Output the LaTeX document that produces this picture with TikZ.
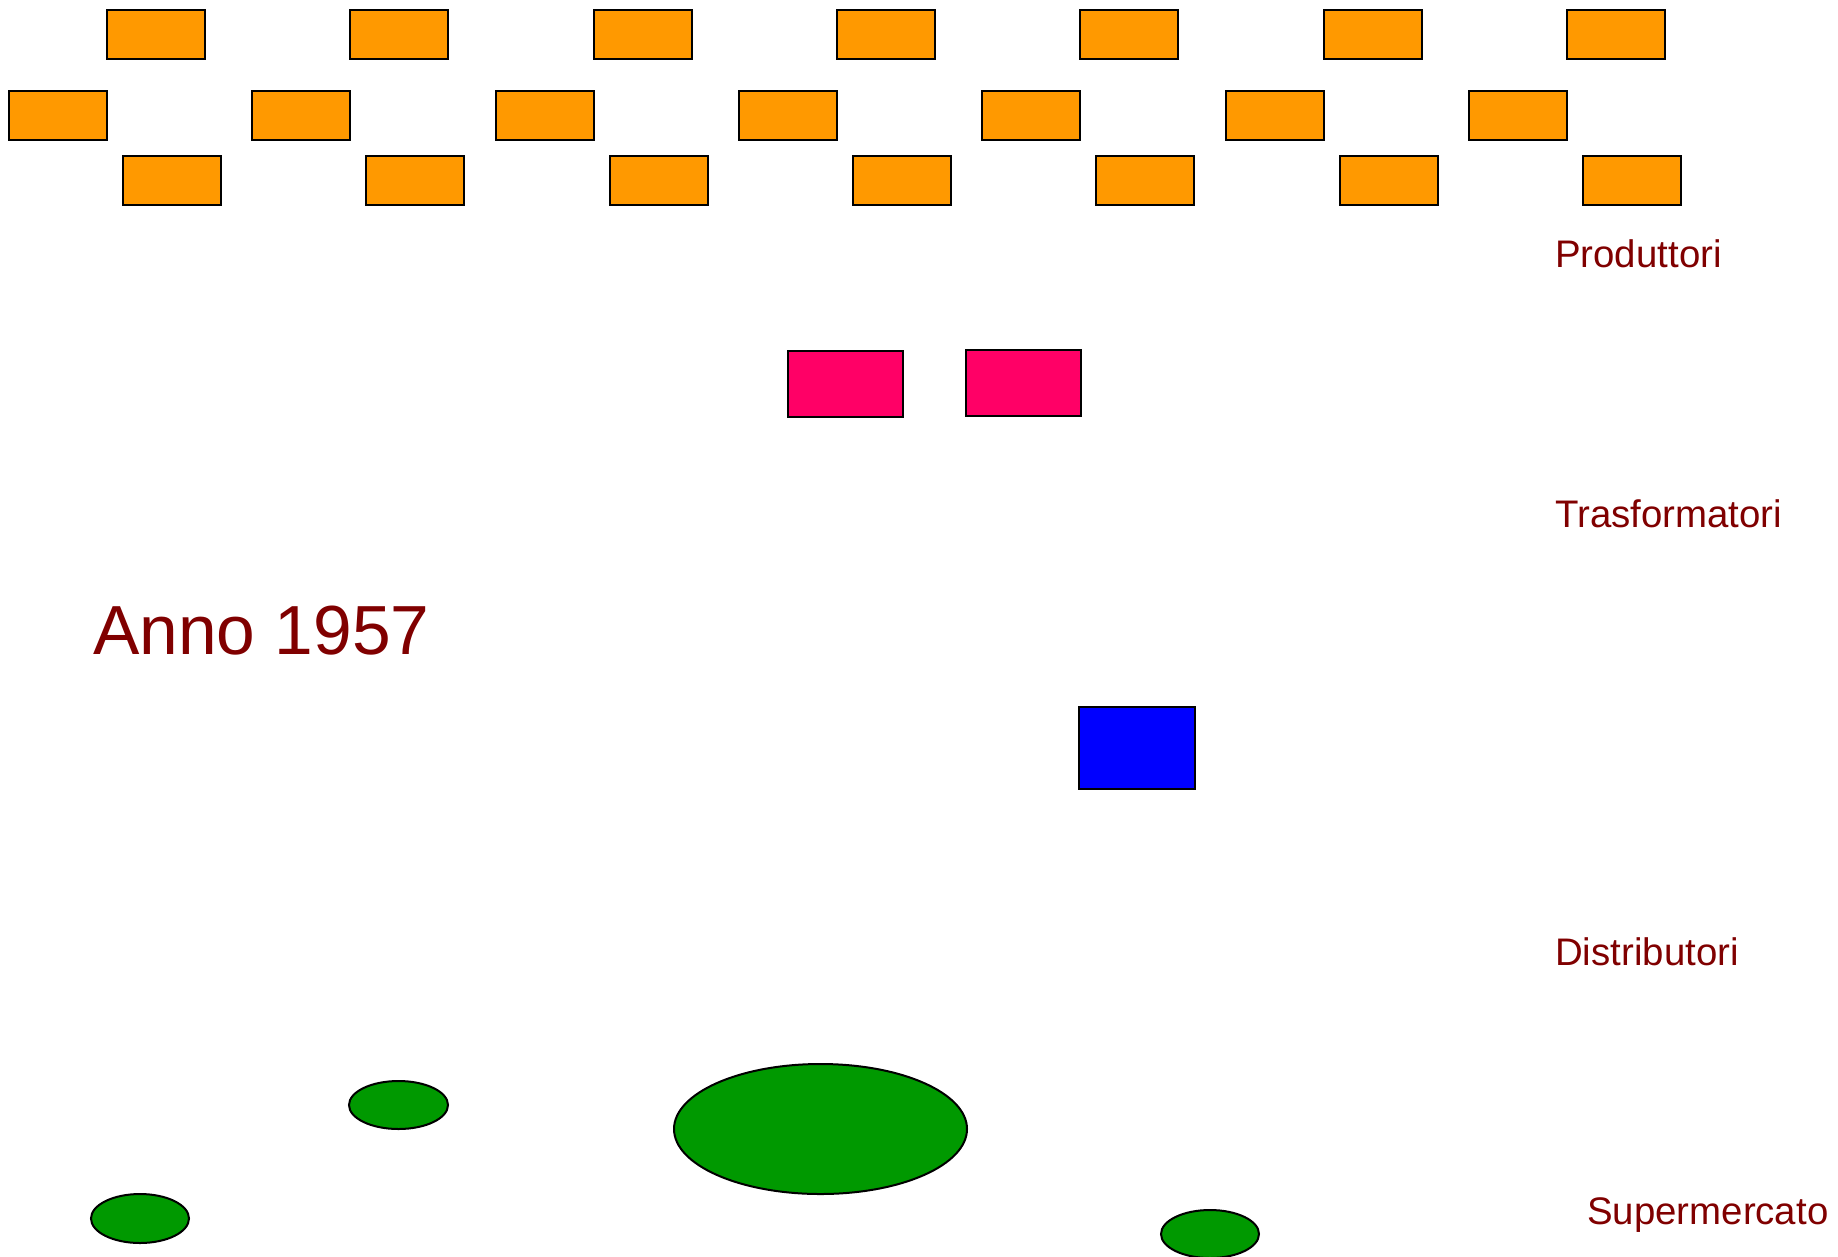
\documentclass[tikz,border=0pt]{standalone}
\usepackage{fontspec}
\setmainfont{Liberation Sans}
\usetikzlibrary{shapes.geometric}
\definecolor{prodc}{RGB}{255,153,0}
\definecolor{trasc}{RGB}{255,0,102}
\definecolor{distc}{RGB}{0,0,255}
\definecolor{superc}{RGB}{0,153,0}
\definecolor{labc}{RGB}{128,0,0}
\tikzset{
  prodbox/.style={draw=black,line width=2pt,fill=prodc,rectangle,inner sep=0pt,minimum width=98pt,minimum height=49pt},
  trasbox/.style={draw=black,line width=2pt,fill=trasc,rectangle,inner sep=0pt,minimum width=115pt,minimum height=66pt},
  distbox/.style={draw=black,line width=2pt,fill=distc,rectangle,inner sep=0pt,minimum width=116pt,minimum height=82pt},
  superell/.style={draw=black,line width=2pt,fill=superc,ellipse,inner sep=0pt},
  lab/.style={text=labc,anchor=base west,inner sep=0pt,font=\fontsize{38.4}{42}\selectfont},
}
\begin{document}
\begin{tikzpicture}[x=1pt,y=-1pt]
\useasboundingbox (0,0) rectangle (1838,1256);
% Produttori
\foreach \i in {0,...,6}{
  \node[prodbox] (pa\i) at ({156+243.3*\i},34.5) {};
  \node[prodbox] (pb\i) at ({58+243.3*\i},115.5) {};
  \node[prodbox] (pc\i) at ({172+243.3*\i},180.5) {};
}
% Trasformatori
\node[trasbox] (t1) at (845.5,383.5) {};
\node[trasbox] (t2) at (1023.5,383) {};
% Distributori
\node[distbox] (d1) at (1137,748) {};
% Supermercati
\node[superell,minimum width=99pt,minimum height=48pt] (s1) at (398.5,1105) {};
\node[superell,minimum width=98pt,minimum height=49pt] (s2) at (140,1218.5) {};
\node[superell,minimum width=293pt,minimum height=130pt] (s3) at (820.5,1129) {};
\node[superell,minimum width=98pt,minimum height=48pt] (s4) at (1210,1234) {};
% Labels
\node[lab] (lp) at (1555,267) {Produttori};
\node[lab] (lt) at (1555,527) {Trasformatori};
\node[lab] (ld) at (1555,965) {Distributori};
\node[lab] (ls) at (1587,1224) {Supermercato};
\node[text=labc,anchor=base west,inner sep=0pt,font=\fontsize{69.5}{74}\selectfont] (anno) at (93,654) {Anno 1957};
\end{tikzpicture}
\end{document}
